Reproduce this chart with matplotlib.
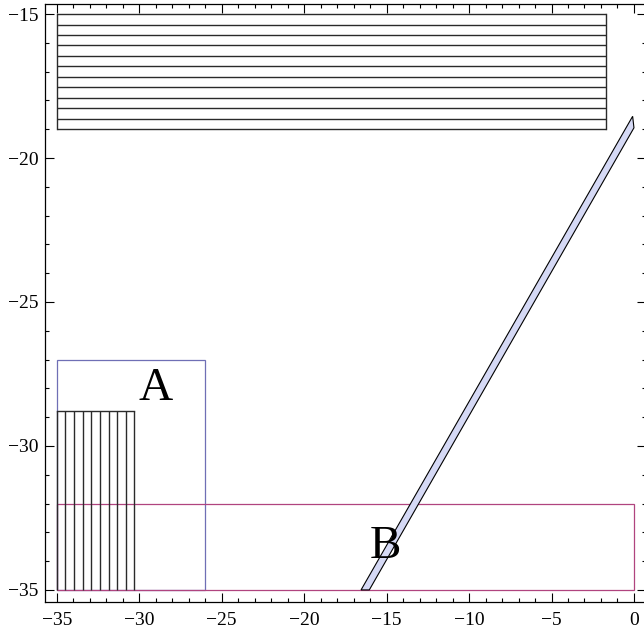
import numpy as np
import matplotlib
matplotlib.use("Agg")
import matplotlib.pyplot as plt
from matplotlib.patches import Polygon, Rectangle
from matplotlib.ticker import MultipleLocator

# ---- data ----
# horizontal-hatched block (x0, x1, y0, y1) and its line levels
hblock_x = [-35.0, -1.7]
hblock_y = [-19.0, -15.0]
hblock_levels = list(np.linspace(-19.0, -15.0, 12))

# vertical-hatched block
vblock_x = [-35.0, -30.3]
vblock_y = [-35.0, -28.8]
vblock_levels = list(np.linspace(-35.0, -30.3, 10))

# region A and region B rectangles
rectA_x = [-35.0, -26.0]
rectA_y = [-35.0, -27.0]
rectB_x = [-35.0, 0.0]
rectB_y = [-35.0, -32.0]

# diagonal band polygon
band_x = [-16.55, -16.05, 0.0, -0.08]
band_y = [-35.0, -35.0, -18.95, -18.55]

labels = ["A", "B"]
label_x = [-29.0, -15.05]
label_y = [-28.41, -33.90]

xticks = [-35, -30, -25, -20, -15, -10, -5, 0]
yticks = [-35, -30, -25, -20, -15]

# ---- plot ----
plt.rcParams['font.family'] = ['Liberation Serif', 'DejaVu Serif']
fig = plt.figure(figsize=(6.44, 6.35), dpi=100)
ax = fig.add_axes([45.3 / 644, 33 / 635, 600.2 / 644, 597.7 / 635])

lc = '#2a2a2a'
# horizontal hatched block
for yv in hblock_levels:
    ax.plot(hblock_x, [yv, yv], color=lc, lw=1.0, solid_capstyle='butt')
ax.plot([hblock_x[0]] * 2, hblock_y, color=lc, lw=1.0)
ax.plot([hblock_x[1]] * 2, hblock_y, color=lc, lw=1.0)

# vertical hatched block
for xv in vblock_levels:
    ax.plot([xv, xv], vblock_y, color=lc, lw=1.0, solid_capstyle='butt')
ax.plot(vblock_x, [vblock_y[1]] * 2, color=lc, lw=1.0)

# rectangle A
ax.add_patch(Rectangle((rectA_x[0], rectA_y[0]), rectA_x[1] - rectA_x[0],
                       rectA_y[1] - rectA_y[0], fill=False,
                       edgecolor='#6f6fb5', lw=0.9))
# rectangle B
ax.add_patch(Rectangle((rectB_x[0], rectB_y[0]), rectB_x[1] - rectB_x[0],
                       rectB_y[1] - rectB_y[0], fill=False,
                       edgecolor='#b0447f', lw=0.9))

# diagonal band
ax.add_patch(Polygon(np.column_stack([band_x, band_y]), closed=True,
                     facecolor='#d5d9f5', edgecolor='black', lw=0.8))

for t, xv, yv in zip(labels, label_x, label_y):
    ax.text(xv, yv, t, fontsize=34, ha='center', va='baseline',
            family=['Liberation Serif', 'DejaVu Serif'])

ax.set_xlim(-35.7, 0.7)
ax.set_ylim(-35.42, -14.66)
ax.set_xticks(xticks)
ax.set_yticks(yticks)
ax.xaxis.set_minor_locator(MultipleLocator(1))
ax.yaxis.set_minor_locator(MultipleLocator(1))
ax.tick_params(which='both', direction='in', top=True, right=True,
               labelsize=14, width=0.8, colors='black')
ax.tick_params(which='major', length=6.5)
ax.tick_params(which='minor', length=3.2)
ax.tick_params(axis='x', which='major', pad=7)
ax.tick_params(axis='y', which='major', pad=5)
for s in ax.spines.values():
    s.set_linewidth(0.9)

fig.savefig('out.png', dpi=100)
